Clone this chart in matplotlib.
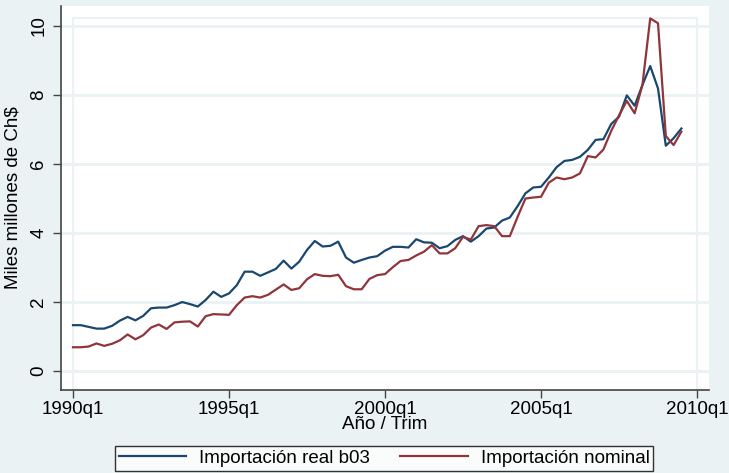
import matplotlib
matplotlib.use("Agg")
import matplotlib.pyplot as plt
import numpy as np

# quarterly series, 1990q1 .. 2009q3 (miles millones de Ch$)
start_year = 1990
real_b03 = [1.32, 1.32, 1.27, 1.22, 1.22, 1.30, 1.45, 1.56, 1.46, 1.59,
            1.81, 1.83, 1.83, 1.90, 1.99, 1.93, 1.86, 2.05, 2.29, 2.14,
            2.24, 2.48, 2.87, 2.87, 2.75, 2.85, 2.95, 3.19, 2.96, 3.16,
            3.50, 3.76, 3.60, 3.62, 3.74, 3.28, 3.13, 3.21, 3.28, 3.32,
            3.48, 3.59, 3.59, 3.57, 3.81, 3.72, 3.71, 3.55, 3.61, 3.79,
            3.90, 3.74, 3.90, 4.12, 4.15, 4.35, 4.44, 4.77, 5.14, 5.31,
            5.33, 5.60, 5.90, 6.08, 6.11, 6.20, 6.40, 6.69, 6.71, 7.15,
            7.36, 7.98, 7.68, 8.28, 8.83, 8.18, 6.52, 6.74, 7.02]
nominal = [0.68, 0.68, 0.70, 0.79, 0.72, 0.78, 0.88, 1.05, 0.91, 1.03,
           1.25, 1.34, 1.21, 1.40, 1.42, 1.43, 1.28, 1.58, 1.64, 1.63,
           1.62, 1.90, 2.12, 2.16, 2.12, 2.20, 2.35, 2.50, 2.34, 2.39,
           2.65, 2.80, 2.75, 2.74, 2.78, 2.45, 2.36, 2.36, 2.66, 2.77,
           2.80, 3.00, 3.18, 3.21, 3.34, 3.45, 3.64, 3.40, 3.40, 3.55,
           3.88, 3.80, 4.19, 4.22, 4.19, 3.90, 3.90, 4.46, 4.99, 5.02,
           5.04, 5.45, 5.60, 5.55, 5.60, 5.72, 6.22, 6.18, 6.41, 6.95,
           7.40, 7.82, 7.46, 8.28, 10.21, 10.07, 6.80, 6.54, 6.93]
tick_years = [1990, 1995, 2000, 2005, 2010]
yticks = [0, 2, 4, 6, 8, 10]

bg = "#EAF2F3"
navy = "#1A476F"
maroon = "#90353B"

plt.rcParams["font.family"] = ["Liberation Sans", "DejaVu Sans"]

q = np.arange(len(real_b03))
xt = [(y - start_year) * 4 for y in tick_years]

fig = plt.figure(figsize=(7.29, 4.73), dpi=100, facecolor=bg)
ax = fig.add_axes([0.0837, 0.1765, 0.8889, 0.8108])
ax.set_facecolor("white")

for y in yticks:
    ax.axhline(y, color=bg, lw=2, zorder=0)
# stata plot region outline
ymax = max(max(real_b03), max(nominal))
ax.plot([xt[0], xt[0], xt[-1], xt[-1]], [-0.55, ymax, ymax, -0.55],
        color=bg, lw=1.5, zorder=0)

ax.plot(q, real_b03, color=navy, lw=1.6, label="Importación real b03")
ax.plot(q, nominal, color=maroon, lw=1.6, label="Importación nominal")

ax.set_xlim(-1.54, 81.54)
ax.set_ylim(-0.545, 10.57)
ax.set_xticks(xt)
ax.set_xticklabels([f"{y}q1" for y in tick_years])
ax.set_yticks(yticks)
ax.set_yticklabels([str(v) for v in yticks], rotation=90, va="center")

for s in ["top", "right"]:
    ax.spines[s].set_visible(False)
for s in ["left", "bottom"]:
    ax.spines[s].set_color("#444444")
    ax.spines[s].set_linewidth(1.2)
ax.tick_params(axis="both", labelsize=13.5, length=6, width=1, color="#444444",
               direction="out")
ax.tick_params(axis="x", pad=2)
ax.tick_params(axis="y", pad=4)

ax.set_xlabel("Año / Trim", fontsize=13.5, labelpad=-1)
ax.set_ylabel("Miles millones de Ch$", fontsize=13.5, labelpad=6)

leg = fig.legend(loc="upper center", bbox_to_anchor=(0.527, 1 - 446 / 473),
                 ncol=2, fontsize=13.5, frameon=True, fancybox=False,
                 handlelength=3.6, columnspacing=1.6, borderpad=0.2,
                 borderaxespad=0, handletextpad=0.7)
leg.get_frame().set_edgecolor("black")
leg.get_frame().set_linewidth(1.0)
leg.get_frame().set_facecolor("white")

fig.savefig("out.png", dpi=100, facecolor=bg)
